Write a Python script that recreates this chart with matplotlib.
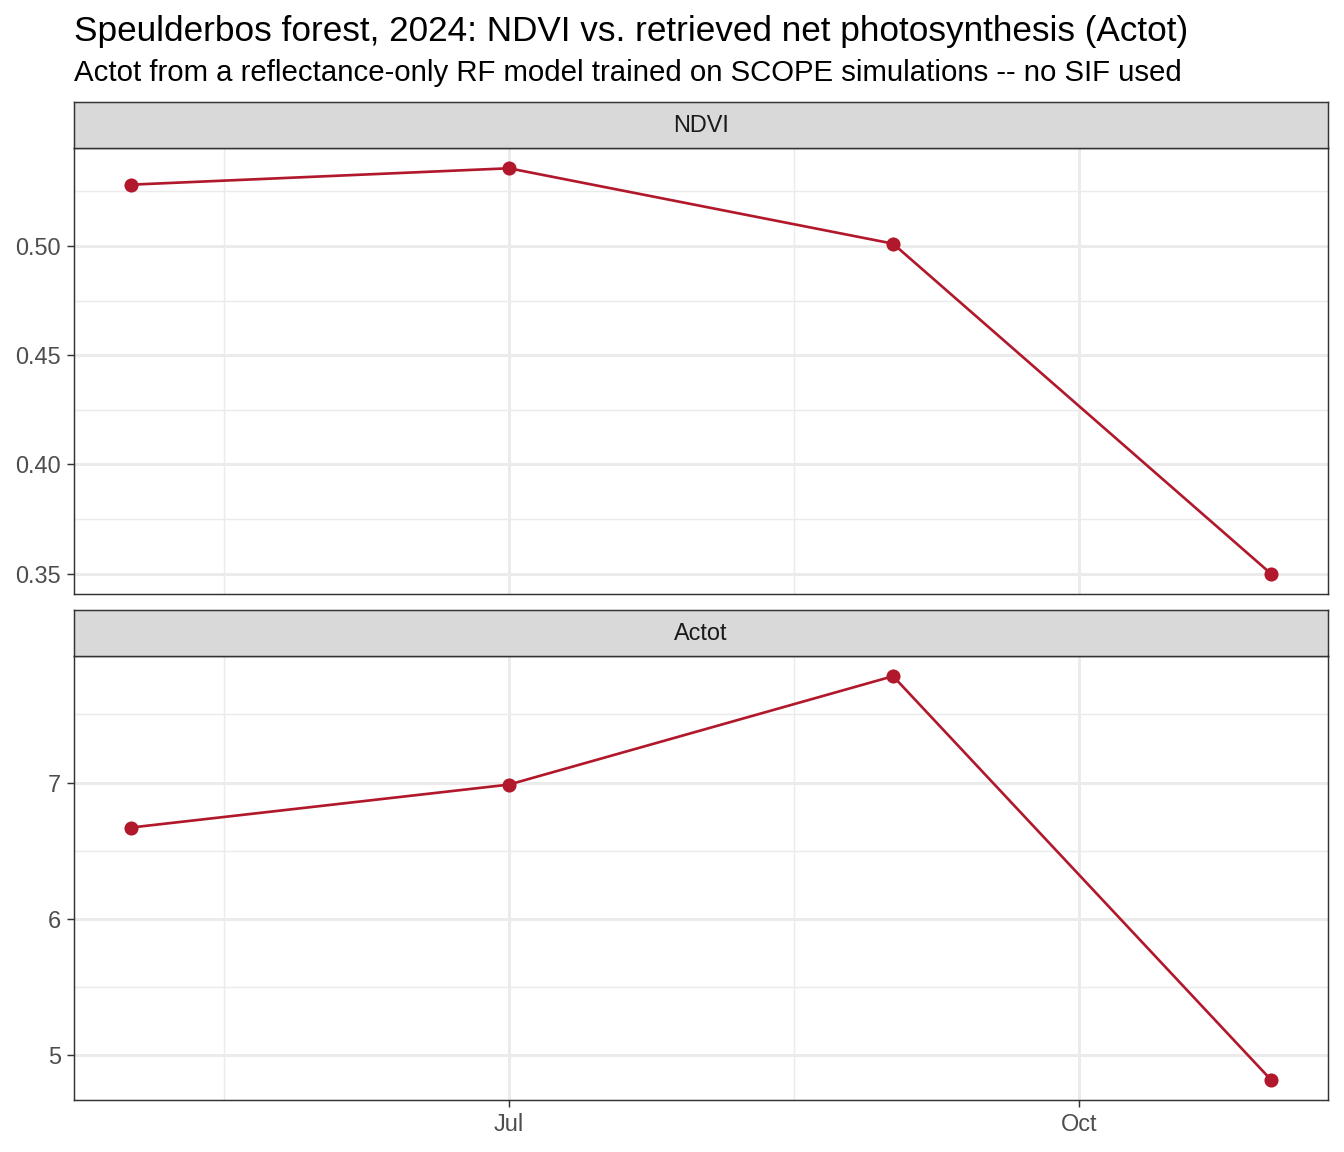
import matplotlib
matplotlib.use("Agg")
import matplotlib.pyplot as plt
import matplotlib.dates as mdates
import numpy as np
from datetime import date

plt.rcParams['font.family'] = ['Liberation Sans', 'DejaVu Sans']

DATES = [date(2024, 5, 1), date(2024, 7, 1), date(2024, 9, 1), date(2024, 11, 1)]
NDVI = [0.528, 0.5355, 0.501, 0.350]
ACTOT = [6.67, 6.985, 7.78, 4.82]

PANELS = [
    ('NDVI', NDVI, [0.35, 0.40, 0.45, 0.50], ['0.35', '0.40', '0.45', '0.50'],
     [0.375, 0.425, 0.475, 0.525]),
    ('Actot', ACTOT, [5, 6, 7], ['5', '6', '7'], [5.5, 6.5, 7.5]),
]

X_MAJOR = [date(2024, 7, 1), date(2024, 10, 1)]
X_MAJOR_LABELS = ['Jul', 'Oct']
X_MINOR = [date(2024, 5, 16), date(2024, 8, 16)]

TITLE = 'Speulderbos forest, 2024: NDVI vs. retrieved net photosynthesis (Actot)'
SUBTITLE = 'Actot from a reflectance-only RF model trained on SCOPE simulations -- no SIF used'

LINE_COL = '#B2182B'
W, H = 1344, 1152

fig = plt.figure(figsize=(7, 6), dpi=192, facecolor='white')

# panel boxes in pixels: (top of strip, top of panel, bottom of panel)
boxes = [(102, 148, 594), (610, 656, 1100)]
left, right = 74, 1328

xnum = mdates.date2num(DATES)
span = xnum.max() - xnum.min()
xlim = (xnum.min() - 0.05 * span, xnum.max() + 0.05 * span)

for i, ((name, vals, yt, ytl, ymin), (st, pt, pb)) in enumerate(zip(PANELS, boxes)):
    ax = fig.add_axes([left / W, 1 - pb / H, (right - left) / W, (pb - pt) / H])
    ax.set_facecolor('white')
    for x in mdates.date2num(X_MAJOR):
        ax.axvline(x, color='#EBEBEB', lw=1.1, zorder=0)
    for x in mdates.date2num(X_MINOR):
        ax.axvline(x, color='#EBEBEB', lw=0.55, zorder=0)
    for y in yt:
        ax.axhline(y, color='#EBEBEB', lw=1.1, zorder=0)
    for y in ymin:
        ax.axhline(y, color='#EBEBEB', lw=0.55, zorder=0)

    ax.plot(xnum, vals, color=LINE_COL, lw=1.0, zorder=2)
    ax.scatter(xnum, vals, color=LINE_COL, s=28, zorder=3, linewidths=0)

    lo, hi = min(vals), max(vals)
    pad = 0.05 * (hi - lo)
    ax.set_ylim(lo - pad, hi + pad)
    ax.set_xlim(*xlim)
    ax.set_yticks(yt)
    ax.set_yticklabels(ytl)
    ax.set_xticks(mdates.date2num(X_MAJOR))
    ax.tick_params(colors='#333333', labelcolor='#4D4D4D', labelsize=8.8,
                   width=0.55, length=2.75, pad=2.2)
    if i == len(PANELS) - 1:
        ax.set_xticklabels(X_MAJOR_LABELS)
    else:
        ax.set_xticklabels([])
        ax.tick_params(axis='x', length=0)
    for sp in ax.spines.values():
        sp.set_color('#333333')
        sp.set_linewidth(0.55)

    # strip
    sax = fig.add_axes([left / W, 1 - pt / H, (right - left) / W, (pt - st) / H])
    sax.set_facecolor('#D9D9D9')
    sax.set_xticks([])
    sax.set_yticks([])
    for sp in sax.spines.values():
        sp.set_color('#333333')
        sp.set_linewidth(0.55)
    sax.text(0.5, 0.5, name, ha='center', va='center', fontsize=8.8,
             color='#1A1A1A', transform=sax.transAxes)

fig.text(74 / W, 1 - 31 / H, TITLE, fontsize=13.2, color='black', ha='left', va='center')
fig.text(74 / W, 1 - 73 / H, SUBTITLE, fontsize=11, color='black', ha='left', va='center')

fig.savefig('out.png', dpi=192, facecolor='white')
